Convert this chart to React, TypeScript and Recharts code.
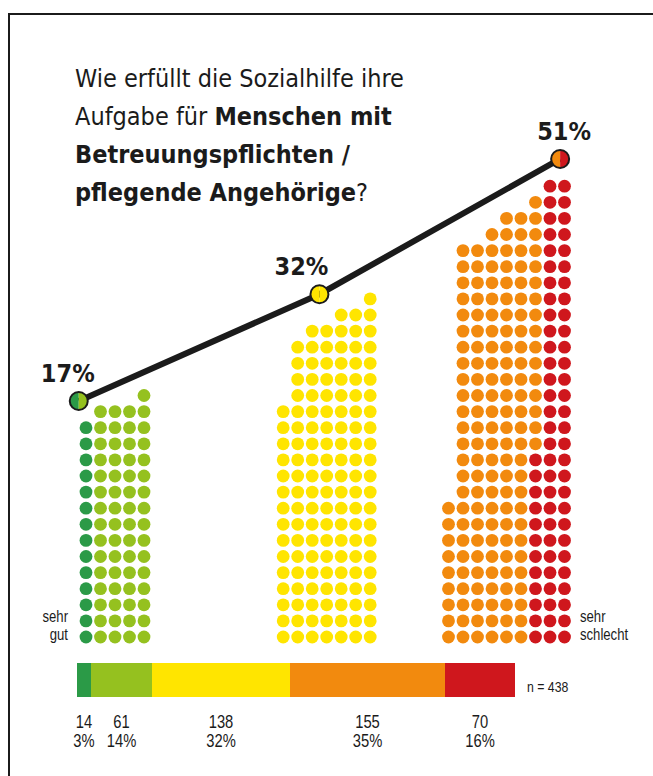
import React from 'react';
import { ScatterChart, Scatter, XAxis, YAxis, BarChart, Bar, LabelList } from 'recharts';

// Antworten (n = 438)
const answers = ['sehr gut', 'gut', 'mittel', 'schlecht', 'sehr schlecht'];
const counts = [14, 61, 138, 155, 70];
const shares = ['3%', '14%', '32%', '35%', '16%'];
const colors = ['#2b9a47', '#95c11f', '#ffe500', '#f28a0e', '#cf171d'];

// zusammengefasst: gut / mittel / schlecht
const groupShares = [17, 32, 51];

// Punkte je Zeile, unterste Zeile zuerst
const sehrGutRows = [1, 1, 1, 1, 1, 1, 1, 1, 1, 1, 1, 1, 1, 1];
const gutRows = [4, 4, 4, 4, 4, 4, 4, 4, 4, 4, 4, 4, 4, 4, 4, 1];
const mittelRows = [7, 7, 7, 7, 7, 7, 7, 7, 7, 7, 7, 7, 7, 7, 7, 6, 6, 6, 6, 5, 3, 1];
const schlechtRows = [6, 6, 6, 6, 6, 6, 6, 6, 6, 5, 5, 5, 6, 6, 6, 6, 6, 6, 6, 6, 6, 6, 6, 6, 6, 4, 3, 1, 0];
const sehrSchlechtRows = [3, 3, 3, 3, 3, 3, 3, 3, 3, 3, 3, 3, 2, 2, 2, 2, 2, 2, 2, 2, 2, 2, 2, 2, 2, 2, 2, 2, 2];

const TITLE_FONT = "'DejaVu Sans Condensed', 'DejaVu Sans', sans-serif";
const NARROW_FONT = "'Liberation Sans', Arial, sans-serif";
const INK = '#1b1b1b';

// layout of the dot field
const W = 653;
const CH = 700;
const COL = 14.5; // px per dot column
const ROW = 16.1; // px per dot row
const X0 = 86; // px of first green column
const Y0 = 637; // px of bottom row
const PCT_PX = 7.118; // px per percent point on the line
const PCT_ZERO = 522;

const groups = [
  { start: 0, width: 5, parts: [{ rows: sehrGutRows, a: 0 }, { rows: gutRows, a: 1 }], marker: -0.5, labelDx: -11 },
  { start: 13.6, width: 7, parts: [{ rows: mittelRows, a: 2 }], marker: 2.5, labelDx: -18 },
  { start: 25, width: 9, parts: [{ rows: schlechtRows, a: 3 }, { rows: sehrSchlechtRows, a: 4 }], marker: 7.7, labelDx: 4 },
];

const markerColors = [
  [colors[0], colors[1]],
  [colors[2], colors[2]],
  [colors[3], colors[4]],
];

// place dots right-aligned, row by row
const dotsByAnswer: { x: number; y: number }[][] = answers.map(() => []);
groups.forEach((g) => {
  const nRows = Math.max(...g.parts.map((p) => p.rows.length));
  for (let r = 0; r < nRows; r++) {
    const total = g.parts.reduce((s, p) => s + (p.rows[r] || 0), 0);
    let c = g.width - total;
    g.parts.forEach((p) => {
      for (let k = 0; k < (p.rows[r] || 0); k++) {
        dotsByAnswer[p.a].push({ x: g.start + c, y: r });
        c++;
      }
    });
  }
});

const markerData = groupShares.map((p, i) => ({ x: groups[i].start + groups[i].marker, y: p, i }));

const xMin = -X0 / COL;
const xMax = xMin + W / COL;
const yMax = Y0 / ROW;
const yMin = yMax - CH / ROW;
const pMax = PCT_ZERO / PCT_PX;
const pMin = pMax - CH / PCT_PX;

const barRow = [
  answers.reduce((o: any, a, i) => {
    o['v' + i] = counts[i];
    return o;
  }, { name: 'alle' }),
];

// condensed text: Liberation Sans squeezed horizontally
const Narrow = ({ x, y, size, anchor = 'start', children }: any) => (
  <text
    transform={`translate(${x},${y}) scale(0.82,1)`}
    textAnchor={anchor}
    fontFamily={NARROW_FONT}
    fontSize={size}
    fill={INK}
  >
    {children}
  </text>
);

const Dot = (color: string) => (props: any) => <circle cx={props.cx} cy={props.cy} r={6.4} fill={color} />;

const Marker = (props: any) => {
  const { cx, cy, payload } = props;
  const r = 9;
  const [left, right] = markerColors[payload.i];
  return (
    <g>
      <path d={`M${cx},${cy - r} A${r},${r} 0 0 0 ${cx},${cy + r} Z`} fill={left} />
      <path d={`M${cx},${cy - r} A${r},${r} 0 0 1 ${cx},${cy + r} Z`} fill={right} />
      <circle cx={cx} cy={cy} r={r} fill="none" stroke={INK} strokeWidth={2} />
      <text
        x={cx + groups[payload.i].labelDx}
        y={cy - 19}
        textAnchor="middle"
        fontFamily={TITLE_FONT}
        fontWeight={700}
        fontSize={25}
        fill={INK}
      >
        {payload.y}%
      </text>
    </g>
  );
};

const barLabel = (i: number) => (props: any) => {
  const { x, y, width, height, value } = props;
  const cx = x + width / 2;
  return (
    <g>
      <Narrow x={cx} y={y + height + 31} size={18} anchor="middle">{value}</Narrow>
      <Narrow x={cx} y={y + height + 50} size={18} anchor="middle">{shares[i]}</Narrow>
    </g>
  );
};

export default function App() {
  return (
    <div style={{ position: 'absolute', left: 0, top: 0, width: W, height: 776, background: '#fff' }}>
      <div
        style={{
          position: 'absolute',
          left: 8,
          top: 13,
          width: 660,
          height: 780,
          borderTop: `2px solid ${INK}`,
          borderLeft: `2px solid ${INK}`,
        }}
      />
      <div style={{ position: 'absolute', left: 0, top: 0 }}>
        <ScatterChart width={W} height={CH} margin={{ top: 0, right: 0, bottom: 0, left: 0 }}>
          <XAxis type="number" dataKey="x" domain={[xMin, xMax]} allowDataOverflow hide />
          <YAxis yAxisId="rows" type="number" dataKey="y" domain={[yMin, yMax]} allowDataOverflow hide />
          <YAxis yAxisId="pct" type="number" dataKey="y" domain={[pMin, pMax]} allowDataOverflow hide />
          {answers.map((a, i) => (
            <Scatter
              key={a}
              name={a}
              yAxisId="rows"
              data={dotsByAnswer[i]}
              shape={Dot(colors[i])}
              isAnimationActive={false}
            />
          ))}
          <Scatter
            name="Anteil"
            yAxisId="pct"
            data={markerData}
            line={{ stroke: INK, strokeWidth: 6 }}
            lineJointType="linear"
            shape={Marker}
            isAnimationActive={false}
          />
        </ScatterChart>
      </div>
      <div style={{ position: 'absolute', left: 0, top: 663 }}>
        <BarChart
          width={W}
          height={90}
          layout="vertical"
          data={barRow}
          margin={{ top: 0, right: W - 77 - 438, bottom: 56, left: 77 }}
          barCategoryGap={0}
        >
          <XAxis type="number" domain={[0, 438]} hide />
          <YAxis type="category" dataKey="name" hide />
          {answers.map((a, i) => (
            <Bar key={a} dataKey={'v' + i} stackId="n" fill={colors[i]} isAnimationActive={false}>
              <LabelList dataKey={'v' + i} content={barLabel(i)} />
            </Bar>
          ))}
        </BarChart>
      </div>
      <svg width={W} height={776} style={{ position: 'absolute', left: 0, top: 0, pointerEvents: 'none' }}>
        <g fontFamily={TITLE_FONT} fontSize={25} fill={INK}>
          <text x={75} y={87}>Wie erfüllt die Sozialhilfe ihre</text>
          <text x={75} y={125}>
            Aufgabe für <tspan fontWeight={700}>Menschen mit</tspan>
          </text>
          <text x={75} y={163} fontWeight={700}>Betreuungspflichten /</text>
          <text x={75} y={201}>
            <tspan fontWeight={700}>pflegende Angehörige</tspan>?
          </text>
        </g>
        <Narrow x={68} y={622} size={16} anchor="end">sehr</Narrow>
        <Narrow x={68} y={640} size={16} anchor="end">gut</Narrow>
        <Narrow x={580} y={622} size={16}>sehr</Narrow>
        <Narrow x={580} y={640} size={16}>schlecht</Narrow>
        <Narrow x={527} y={692} size={15}>n = 438</Narrow>
      </svg>
    </div>
  );
}
